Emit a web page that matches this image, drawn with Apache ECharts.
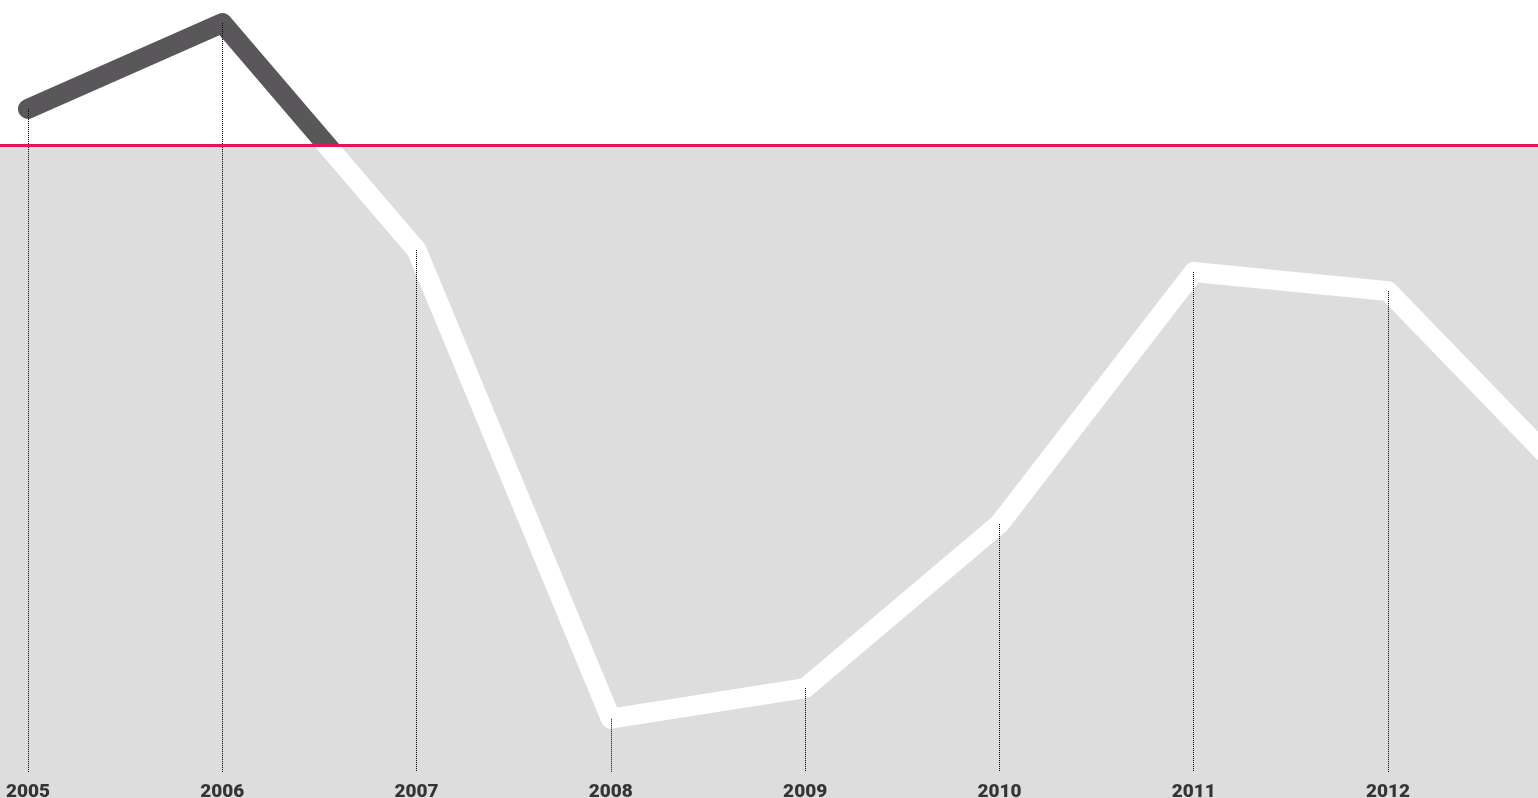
<!DOCTYPE html>
<html>
<head>
<meta charset="utf-8">
<style>
  html, body { margin: 0; padding: 0; background: #ffffff; }
  #chart { width: 1538px; height: 798px; }
</style>
<script src="https://cdn.jsdelivr.net/npm/echarts@6/dist/echarts.min.js"></script>
</head>
<body>
<div id="chart"></div>
<script>
// Years along the x axis and the yearly values of the series
const years = [2005, 2006, 2007, 2008, 2009, 2010, 2011, 2012, 2013];
const values = [0.73, 2.44, -2.08, -11.42, -10.81, -7.54, -2.52, -2.90, -6.90];
// Years that get a label and a drop line
const tickYears = [2005, 2006, 2007, 2008, 2009, 2010, 2011, 2012];
// Reference level: above it the line is dark, below it white on grey
const threshold = 0;
// Level where the dotted drop lines stop, and level of the year labels
const dropEnd = -12.48;
const labelLevel = -12.89;

const chart = echarts.init(document.getElementById('chart'));

const lineData = years.map((y, i) => [y, values[i]]);
const drops = tickYears.map(y => {
  const v = values[years.indexOf(y)];
  return [{ coord: [y, v] }, { coord: [y, dropEnd] }];
});

chart.setOption({
  animation: false,
  backgroundColor: '#ffffff',
  grid: { left: 0, right: 0, top: 0, bottom: 0, containLabel: false },
  xAxis: {
    type: 'value',
    min: 2004.856,
    max: 2012.772,
    axisLine: { show: false },
    axisTick: { show: false },
    splitLine: { show: false },
    axisLabel: { show: false }
  },
  yAxis: {
    type: 'value',
    min: -13,
    max: 2.9,
    show: false,
    splitLine: { show: false }
  },
  visualMap: {
    show: false,
    type: 'piecewise',
    seriesIndex: 0,
    dimension: 1,
    pieces: [
      { gte: threshold, lte: 100, color: '#59575a' },
      { gte: -100, lt: threshold, color: '#ffffff' }
    ],
    outOfRange: { color: '#ffffff' }
  },
  series: [
    {
      type: 'line',
      z: 4,
      data: lineData,
      symbol: 'none',
      lineStyle: { width: 20, cap: 'round', join: 'round' }
    },
    {
      type: 'line',
      z: 2,
      data: [],
      markArea: {
        silent: true,
        itemStyle: { color: '#dcdddc' },
        data: [[{ yAxis: threshold }, { yAxis: -13 }]]
      },
      markLine: {
        silent: true,
        symbol: 'none',
        label: { show: false },
        lineStyle: { type: [1, 1], width: 1, color: '#000000' },
        data: drops
      }
    },
    {
      type: 'line',
      z: 6,
      data: [],
      markLine: {
        silent: true,
        symbol: 'none',
        label: { show: false },
        lineStyle: { type: 'solid', width: 3, color: '#e5135e' },
        data: [{ yAxis: threshold }]
      }
    },
    {
      // year labels along the bottom
      type: 'scatter',
      z: 7,
      silent: true,
      symbolSize: 0,
      data: tickYears.map(y => [y, labelLevel]),
      label: {
        show: true,
        position: 'inside',
        formatter: p => String(p.value[0]),
        fontFamily: 'Roboto',
        fontWeight: 900,
        fontSize: 19,
        color: '#0a0a0a'
      }
    }
  ]
});
</script>
</body>
</html>
